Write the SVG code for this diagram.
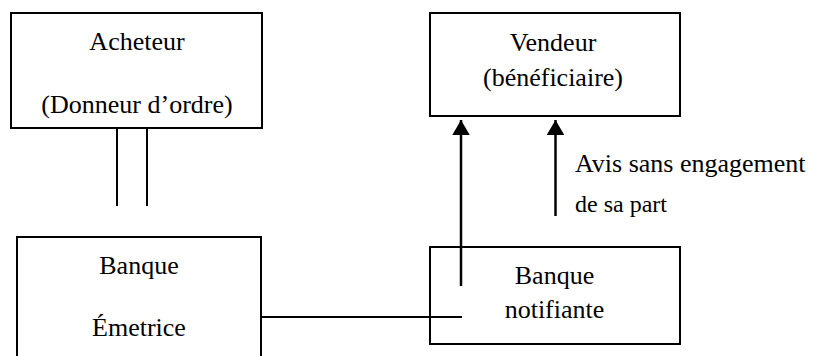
<svg xmlns="http://www.w3.org/2000/svg" width="815" height="356" viewBox="0 0 815 356">
<defs>
<style>
.box{fill:#fff;stroke:#000;stroke-width:2}
.t{font-family:"Liberation Serif","Times New Roman",serif;font-size:26px;fill:#000;text-anchor:middle}
.s{font-family:"Liberation Serif","Times New Roman",serif;fill:#000}
.ln{stroke:#000;stroke-width:2;fill:none}
.ar{stroke:#000;stroke-width:2.5;fill:none}
</style>
<marker id="ah" markerWidth="6" markerHeight="7" refX="6" refY="3.5" orient="auto" markerUnits="strokeWidth">
<path d="M0,0 L6,3.5 L0,7 z" fill="#000"/>
</marker>
</defs>
<rect width="815" height="356" fill="#fff"/>
<g id="acheteur">
<rect class="box" x="11" y="13" width="251" height="115"/>
<text class="t" x="137" y="50">Acheteur</text>
<text class="t" x="137" y="113">(Donneur d’ordre)</text>
</g>
<g id="vendeur">
<rect class="box" x="430" y="13" width="250" height="103"/>
<text class="t" x="553" y="51">Vendeur</text>
<text class="t" x="553" y="86">(bénéficiaire)</text>
</g>
<g id="emettrice">
<rect class="box" x="17" y="237" width="244" height="130"/>
<text class="t" x="139" y="274">Banque</text>
<text class="t" x="139" y="336">Émetrice</text>
</g>
<g id="notifiante">
<rect class="box" x="430" y="247" width="250" height="97"/>
<text class="t" x="554.5" y="284">Banque</text>
<text class="t" x="554.5" y="318">notifiante</text>
</g>
<g id="connectors">
<line class="ln" x1="117" y1="128" x2="117" y2="206"/>
<line class="ln" x1="147" y1="128" x2="147" y2="206"/>
<line class="ln" x1="261" y1="317" x2="462" y2="317"/>
<line class="ar" x1="461" y1="286" x2="461" y2="120" marker-end="url(#ah)"/>
<line class="ar" x1="555.5" y1="216" x2="555.5" y2="120" marker-end="url(#ah)"/>
</g>
<g id="labels">
<text class="s" x="575" y="172" font-size="26">Avis sans engagement</text>
<text class="s" x="575" y="212" font-size="24">de sa part</text>
</g>
</svg>
